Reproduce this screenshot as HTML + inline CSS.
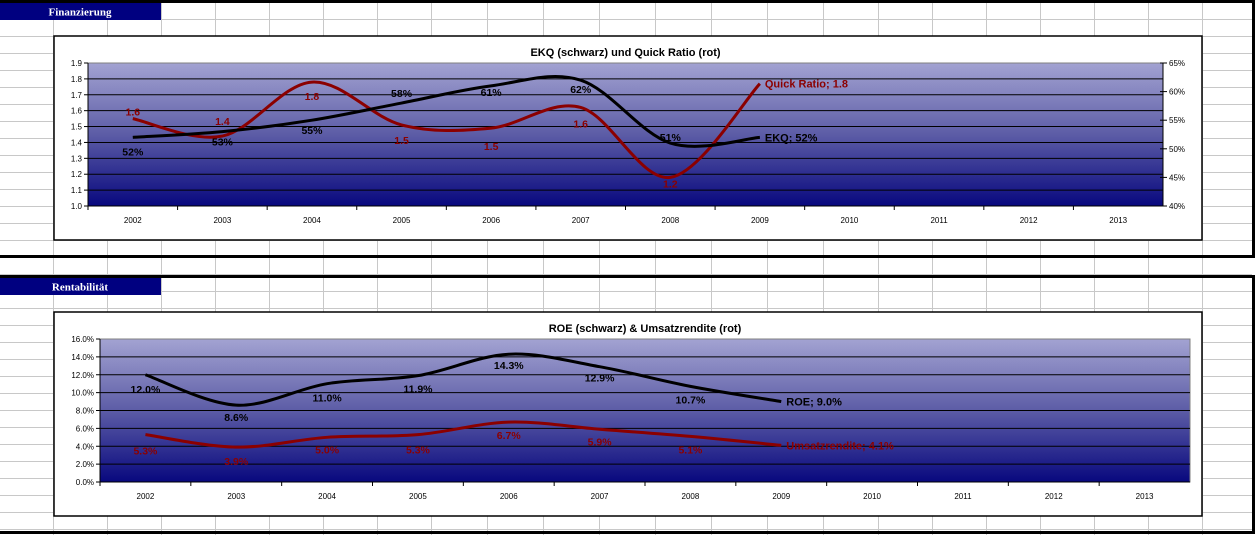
<!DOCTYPE html>
<html><head><meta charset="utf-8"><style>
html,body{margin:0;padding:0;background:#fff;}
svg{display:block;font-family:"Liberation Sans",Arial,sans-serif;}
</style></head><body>
<svg id="page" width="1255" height="535" viewBox="0 0 1255 535" xmlns="http://www.w3.org/2000/svg">
<defs>
<linearGradient id="bg" x1="0" y1="0" x2="0" y2="1">
<stop offset="0" stop-color="#a3a3d2"/><stop offset="0.5" stop-color="#5c5ca6"/><stop offset="1" stop-color="#08087e"/>
</linearGradient>
</defs>
<g id="grid"></g>
<g id="frames">
<rect x="0" y="0" width="1255" height="3" fill="#000"/>
<rect x="0" y="255" width="1255" height="3" fill="#000"/>
<rect x="0" y="275" width="1255" height="3" fill="#000"/>
<rect x="0" y="531" width="1255" height="3" fill="#000"/>
<rect x="1252" y="0" width="3" height="258" fill="#000"/>
<rect x="1252" y="275" width="3" height="259" fill="#000"/>
<rect x="0" y="3" width="161" height="17" fill="#000080"/>
<text x="80" y="15.5" fill="#fff" font-size="11" font-weight="bold" text-anchor="middle" font-family="Liberation Serif,serif">Finanzierung</text>
<rect x="0" y="278" width="161" height="17" fill="#000080"/>
<text x="80" y="290.5" fill="#fff" font-size="11" font-weight="bold" text-anchor="middle" font-family="Liberation Serif,serif">Rentabilität</text>
</g>
<g id="chart1"></g>
<g id="chart2"></g>
</svg>
<script>
const years = ['2002','2003','2004','2005','2006','2007','2008','2009','2010','2011','2012','2013'];
const quickRatio = [1.55,1.44,1.78,1.51,1.49,1.62,1.18,1.77];
const quickLabels = ['1.6','1.4','1.8','1.5','1.5','1.6','1.2','Quick Ratio; 1.8'];
const ekq = [0.52,0.53,0.55,0.58,0.61,0.62,0.51,0.52];
const ekqLabels = ['52%','53%','55%','58%','61%','62%','51%','EKQ; 52%'];
const leftTicks1 = ['1.0','1.1','1.2','1.3','1.4','1.5','1.6','1.7','1.8','1.9'];
const rightTicks1 = ['40%','45%','50%','55%','60%','65%'];
const roe = [12.0,8.6,11.0,11.9,14.3,12.9,10.7,9.0];
const roeLabels = ['12.0%','8.6%','11.0%','11.9%','14.3%','12.9%','10.7%','ROE; 9.0%'];
const umsatz = [5.3,3.9,5.0,5.3,6.7,5.9,5.1,4.1];
const umsatzLabels = ['5.3%','3.9%','5.0%','5.3%','6.7%','5.9%','5.1%','Umsatzrendite; 4.1%'];
const leftTicks2 = ['0.0%','2.0%','4.0%','6.0%','8.0%','10.0%','12.0%','14.0%','16.0%'];

const NS='http://www.w3.org/2000/svg';
function mk(tag,attrs,parent,txt){const e=document.createElementNS(NS,tag);for(const k in attrs)e.setAttribute(k,attrs[k]);if(txt!==undefined)e.textContent=txt;parent.appendChild(e);return e;}

const grid=document.getElementById('grid');
for(let y=19;y<535;y+=17){const l=mk('line',{x1:0,y1:y+0.5,x2:1252,y2:y+0.5,stroke:'#c8c8c8'},grid);

}
const cols=[53,107,161,215,269,323,377,431,487,543,599,655,711,767,823,878,932,986,1040,1094,1148,1202];
cols.forEach(x=>{const l=mk('line',{x1:x+0.5,y1:0,x2:x+0.5,y2:535,stroke:'#c8c8c8'},grid);

});

function smooth(pts){let d='M'+pts[0][0]+','+pts[0][1];
for(let i=0;i<pts.length-1;i++){const p0=pts[i-1]||pts[i],p1=pts[i],p2=pts[i+1],p3=pts[i+2]||p2;
const c1=[p1[0]+(p2[0]-p0[0])/6,p1[1]+(p2[1]-p0[1])/6],c2=[p2[0]-(p3[0]-p1[0])/6,p2[1]-(p3[1]-p1[1])/6];
d+=' C'+c1+' '+c2+' '+p2;}return d;}

function chart(g,cfg){
  mk('rect',{x:cfg.bx,y:cfg.by,width:cfg.bw,height:cfg.bh,fill:'#fff',stroke:'#000','stroke-width':1.5},g);
  const t=mk('text',{x:(cfg.px0+cfg.px1)/2,y:cfg.by+20,'font-size':11,'font-weight':'bold','text-anchor':'middle'},g,cfg.title);
  
  
  const pa=mk('rect',{x:cfg.px0,y:cfg.py0,width:cfg.px1-cfg.px0,height:cfg.py1-cfg.py0,fill:'url(#bg)',stroke:'#808080'},g);
  
  
  const n=cfg.left.length-1;
  cfg.left.forEach((lab,i)=>{const y=cfg.py1-(cfg.py1-cfg.py0)*i/n;
    if(i>0&&i<n){const gl=mk('line',{x1:cfg.px0,y1:y,x2:cfg.px1,y2:y,stroke:'#000'},g);
    
    }
    mk('line',{x1:cfg.px0-4,y1:y,x2:cfg.px0,y2:y,stroke:'#000'},g);
    const tx=mk('text',{x:cfg.px0-6,y:y+3,'font-size':8,'text-anchor':'end'},g,lab);
    
    });
  mk('line',{x1:cfg.px0,y1:cfg.py0,x2:cfg.px0,y2:cfg.py1,stroke:'#000'},g);
  mk('line',{x1:cfg.px0,y1:cfg.py1,x2:cfg.px1,y2:cfg.py1,stroke:'#000'},g);
  if(cfg.right){const m=cfg.right.length-1;
    mk('line',{x1:cfg.px1,y1:cfg.py0,x2:cfg.px1,y2:cfg.py1,stroke:'#000'},g);
    cfg.right.forEach((lab,i)=>{const y=cfg.py1-(cfg.py1-cfg.py0)*i/m;
      mk('line',{x1:cfg.px1-3,y1:y,x2:cfg.px1+4,y2:y,stroke:'#000'},g);
      const tx=mk('text',{x:cfg.px1+6,y:y+3,'font-size':8},g,lab);
      
      });}
  const cw=(cfg.px1-cfg.px0)/years.length;
  years.forEach((yr,i)=>{const x=cfg.px0+cw*(i+0.5);
    mk('line',{x1:cfg.px0+cw*i,y1:cfg.py1,x2:cfg.px0+cw*i,y2:cfg.py1+4,stroke:'#000'},g);
    const tx=mk('text',{x:x,y:cfg.py1+17,'font-size':8,'text-anchor':'middle'},g,yr);
    
    });
  cfg.series.forEach(s=>{
    const pts=s.values.map((v,i)=>[cfg.px0+cw*(i+0.5),cfg.py1-(cfg.py1-cfg.py0)*(v-s.min)/(s.max-s.min)]);
    const p=mk('path',{d:smooth(pts),fill:'none',stroke:s.color,'stroke-width':3},g);
    
    
    pts.forEach((pt,i)=>{const last=i===pts.length-1;
      const tx=mk('text',{x:last?pt[0]+5:pt[0],y:last?pt[1]+4:pt[1]+(s.dy[i]||15),'font-size':last?11:10.5,'font-weight':'bold','text-anchor':last?'start':'middle',fill:s.color},g,s.labels[i]);
      
      });
  });
}
chart(document.getElementById('chart1'),{bx:54,by:36,bw:1148,bh:204,px0:88,px1:1163,py0:63,py1:206,
  title:'EKQ (schwarz) und Quick Ratio (rot)',left:leftTicks1,right:rightTicks1,
  series:[
   {name:'quick-ratio',values:quickRatio,labels:quickLabels,min:1.0,max:1.9,color:'#8b0000',dy:[-3,-11,18,19,22,20,10]},
   {name:'ekq',values:ekq,labels:ekqLabels,min:0.40,max:0.65,color:'#000',dy:[18,14,14,-6,10,13,-2]}]});
chart(document.getElementById('chart2'),{bx:54,by:312,bw:1148,bh:204,px0:100,px1:1190,py0:339,py1:482,
  title:'ROE (schwarz) & Umsatzrendite (rot)',left:leftTicks2,
  series:[
   {name:'roe',values:roe,labels:roeLabels,min:0,max:16,color:'#000',dy:[18,16,18,17,15,15,17]},
   {name:'umsatzrendite',values:umsatz,labels:umsatzLabels,min:0,max:16,color:'#8b0000',dy:[20,18,16,19,17,16,17]}]});
</script>
</body></html>
